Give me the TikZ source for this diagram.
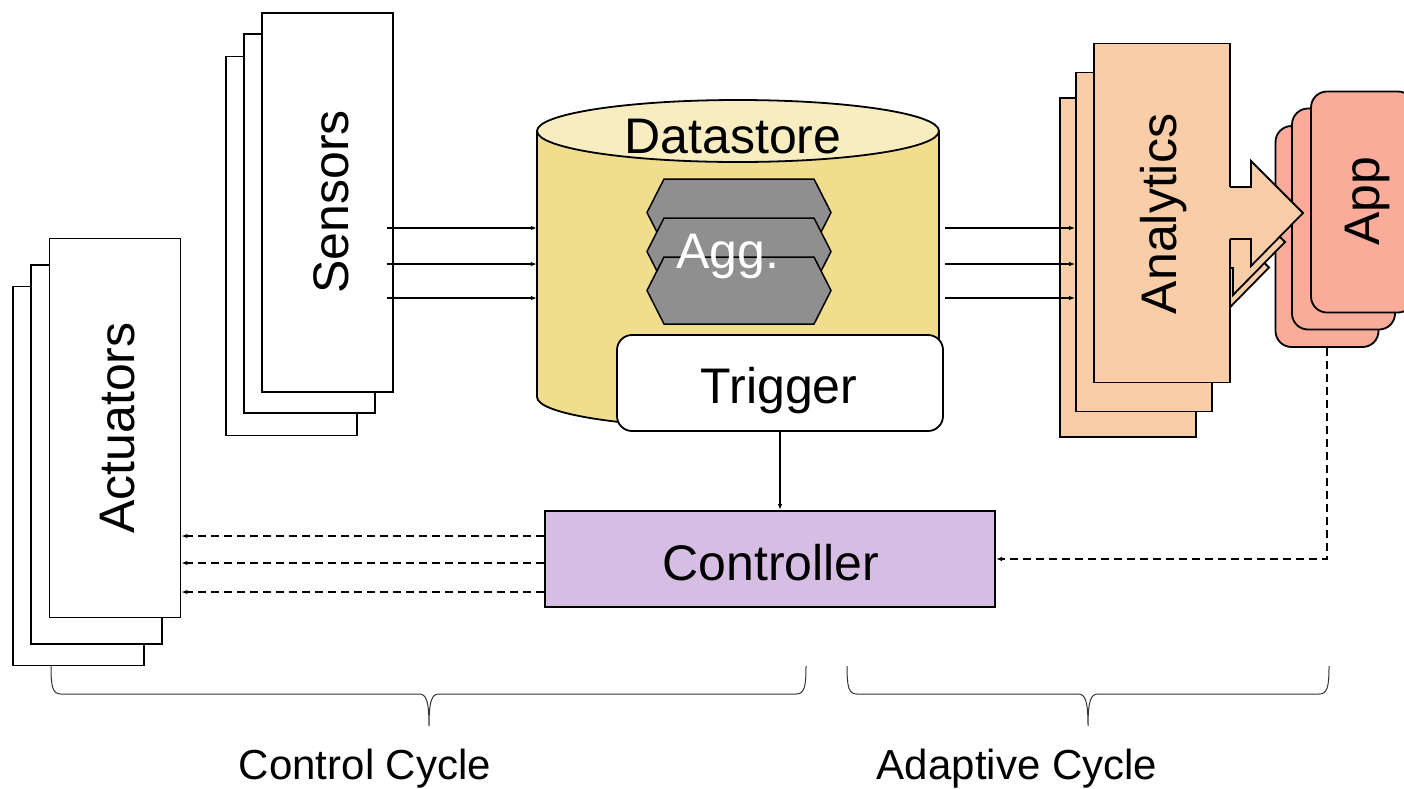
\documentclass[tikz,border=0pt]{standalone}
\usepackage{fontspec}
\setmainfont{Liberation Sans}
\usepackage{xcolor}
\usepackage{tikz}
\usetikzlibrary{arrows.meta,calc}
\definecolor{StoreBody}{HTML}{F0DD8E}
\definecolor{StoreTop}{HTML}{F7EDC1}
\definecolor{AggGray}{HTML}{8F8F8F}
\definecolor{CtrlLilac}{HTML}{D6BDE4}
\definecolor{AnaPeach}{HTML}{F8CDA8}
\definecolor{AppSalmon}{HTML}{FAAB99}
\newcommand{\bigfont}{\fontsize{50}{60}\selectfont}
\newcommand{\capfont}{\fontsize{42}{50}\selectfont}

\tikzset{
  stackbox/.style={draw,line width=1.8pt,fill=white,inner sep=0pt,
                   minimum width=131pt,minimum height=379pt},
  anabox/.style={stackbox,fill=AnaPeach,minimum width=136pt,minimum height=339pt},
  appbox/.style={stackbox,fill=AppSalmon,rounded corners=16pt,
                 minimum width=103pt,minimum height=221pt},
  flow/.style={-{Latex[length=6pt,width=4.5pt]},line width=1.2pt},
  cmd/.style={flow,dash pattern=on 8pt off 5pt},
  txt/.style={font=\bigfont,inner sep=0pt},
}

\begin{document}
\begin{tikzpicture}[x=1pt,y=-1pt]
  \useasboundingbox (0,0) rectangle (1404,788);

  % Pilas de sensores y actuadores
  \node[stackbox] (sen3) at (291.5,246) {};
  \node[stackbox] (sen2) at (309.5,223.5) {};
  \node[stackbox] (sen1) at (327.5,202.5) {};
  \node[txt,rotate=90] (sentxt) at (331,202) {Sensors};

  \node[stackbox] (act3) at (78.5,476) {};
  \node[stackbox] (act2) at (96.5,454.5) {};
  \node[stackbox] (act1) at (115,428) {};
  \node[txt,rotate=90] (acttxt) at (118,428) {Actuators};

  % Datastore como cilindro
  \node[inner sep=0pt,minimum width=402pt,minimum height=266pt] (ds) at (738,264) {};
  \fill[StoreBody] (537,131) -- (537,397) arc[start angle=180,end angle=0,x radius=201,y radius=31]
        -- (939,131) -- cycle;
  \draw[line width=1.8pt] (537,131) -- (537,397) arc[start angle=180,end angle=0,x radius=201,y radius=31]
        -- (939,131);
  \filldraw[fill=StoreTop,line width=1.8pt] (738,131) ellipse[x radius=201,y radius=31];
  \node[txt] (dstxt) at (733,137) {Datastore};

  \foreach \t in {179,218,257}
    \filldraw[fill=AggGray,line width=1.5pt] (647,{\t+33.5}) -- (664,\t) -- (814,\t)
        -- (831,{\t+33.5}) -- (814,{\t+67}) -- (664,{\t+67}) -- cycle;
  \node[txt,text=white] (aggtxt) at (728,256) {Agg.};

  \node[draw,line width=1.8pt,fill=white,rounded corners=15pt,inner sep=0pt,
        minimum width=326pt,minimum height=96pt] (trig) at (780,383) {};
  \node[txt] (trigtxt) at (779,391) {Trigger};

  \node[draw,line width=2pt,fill=CtrlLilac,inner sep=0pt,
        minimum width=450pt,minimum height=96pt] (ctl) at (770,559) {};
  \node[txt] (ctltxt) at (771,563) {Controller};

  % Apps y analytics (cada caja con su flecha gruesa)
  \node[appbox] (app3) at (1327,236.5) {};
  \node[appbox] (app2) at (1343.5,219) {};
  \node[appbox] (app1) at (1362.5,202) {};
  \node[txt,rotate=90] (apptxt) at (1367,201) {App};

  \foreach \dx/\dy/\nm in {-34/54.5/ana3,-18/29/ana2,0/0/ana1}{
    \begin{scope}[shift={(\dx,\dy)}]
      \node[anabox] (\nm) at (1162,213) {};
      \fill[AnaPeach] (1228,187) -- (1251,187) -- (1251,161) -- (1303,213)
          -- (1251,266) -- (1251,239) -- (1228,239) -- cycle;
      \draw[line width=1.8pt] (1230,187) -- (1251,187) -- (1251,161) -- (1303,213)
          -- (1251,266) -- (1251,239) -- (1230,239);
    \end{scope}
  }
  \node[txt,rotate=90] (anatxt) at (1164,214) {Analytics};

  % Conexiones
  \foreach \y in {228,264,298}{
    \draw[flow] ($(sen1.east |- 0,\y)+(-7,0)$) -- (ds.west |- 0,\y);
    \draw[flow] ($(ds.east |- 0,\y)+(6,0)$) -- (ana2.west |- 0,\y);
  }
  \draw[flow] (trig.south) -- (trig.south |- ctl.north);
  \foreach \y in {536,563,592}
    \draw[cmd] (ctl.west |- 0,\y) -- (act1.east |- 0,\y);
  \draw[cmd] (app3.south) |- (ctl.east);

  % Llaves de los ciclos
  \draw[line width=1pt,black!80] (51,666) .. controls (51,688) and (53,694) .. (61,694) -- (419,694)
        .. controls (426,694) and (429,700) .. (429,726) .. controls (429,700) and (432,694) .. (439,694)
        -- (796,694) .. controls (804,694) and (806,688) .. (806,666);
  \draw[line width=1pt,black!80] (847,666) .. controls (847,688) and (849,694) .. (857,694) -- (1078,694)
        .. controls (1085,694) and (1088,700) .. (1088,726) .. controls (1088,700) and (1091,694) .. (1098,694)
        -- (1319,694) .. controls (1327,694) and (1329,688) .. (1329,666);
  \node[font=\capfont,inner sep=0pt] (ctlcyc) at (365,769) {Control Cycle};
  \node[font=\capfont,inner sep=0pt] (adpcyc) at (1017,769) {Adaptive Cycle};
\end{tikzpicture}
\end{document}
